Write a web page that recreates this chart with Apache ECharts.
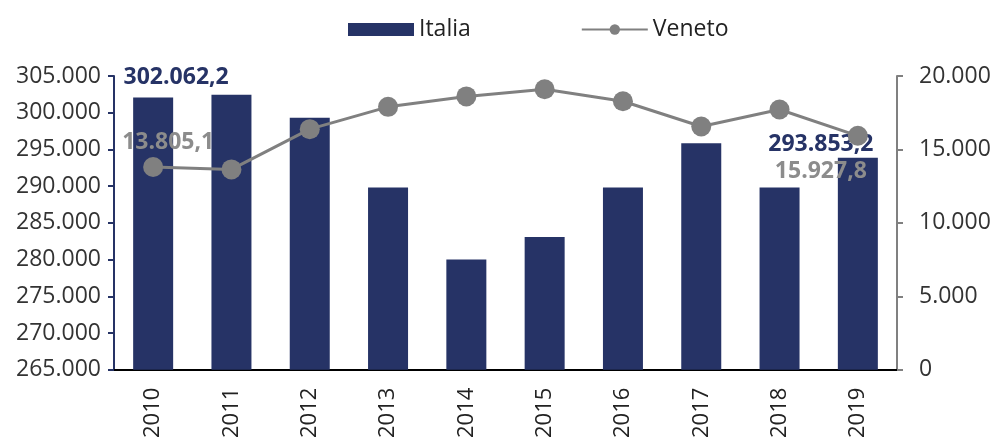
<!DOCTYPE html>
<html>
<head>
<meta charset="utf-8">
<script src="https://cdn.jsdelivr.net/npm/echarts@6/dist/echarts.min.js"></script>
<style>
html,body{margin:0;padding:0;background:#fff;}
#chart{width:998px;height:441px;}
</style>
</head>
<body>
<div id="chart"></div>
<script>
// dati
var anni = ['2010','2011','2012','2013','2014','2015','2016','2017','2018','2019'];
var italia = [302062.2, 302450, 299320, 289830, 280000, 283080, 289830, 295830, 289830, 293853.2];
var veneto = [13805.1, 13640, 16380, 17900, 18610, 19100, 18280, 16560, 17720, 15927.8];
var tickSx = [265000, 305000, 5000];
var tickDx = [0, 20000, 5000];

function fmtIt(v, dec){
	var s = v.toFixed(dec).split('.');
	var int = s[0].replace(/\B(?=(\d{3})+(?!\d))/g, '.');
	return s.length > 1 ? int + ',' + s[1] : int;
}

var FONT = 'Open Sans';
var NAVY = '#263366';
var GREY = '#808080';

// solo primo e ultimo valore con etichetta
var barData = italia.map(function(v, i){
	var d = {value: v};
	if (i === 0) d.label = {show: true, position: 'top', offset: [23, -4]};
	if (i === italia.length - 1) d.label = {show: true, position: 'top', offset: [-37, 3]};
	return d;
});
var lineData = veneto.map(function(v, i){
	var d = {value: v};
	if (i === 0) d.label = {show: true, position: 'top', offset: [15, 2]};
	if (i === veneto.length - 1) d.label = {show: true, position: 'bottom', offset: [-37, 9]};
	return d;
});

var chart = echarts.init(document.getElementById('chart'));
var option = {
	animation: false,
	textStyle: {fontFamily: FONT},
	legend: {
		left: 343, top: 13,
		itemGap: 110,
		itemWidth: 66, itemHeight: 13,
		textStyle: {fontSize: 23, color: '#222', fontFamily: FONT},
		data: [
			{name: 'Italia', icon: 'rect'},
			{name: 'Veneto'}
		]
	},
	grid: {left: 114, right: 101, top: 76, bottom: 67, containLabel: false},
	xAxis: {
		type: 'category',
		data: anni,
		axisTick: {show: false},
		axisLine: {lineStyle: {color: '#000', width: 2}},
		axisLabel: {rotate: 90, fontSize: 22, color: '#222', margin: 18, fontFamily: FONT}
	},
	yAxis: [{
		type: 'value',
		min: tickSx[0], max: tickSx[1], interval: tickSx[2],
		splitLine: {show: false},
		axisLine: {show: true, lineStyle: {color: NAVY, width: 2}},
		axisTick: {show: true, length: 6, lineStyle: {color: NAVY, width: 2}},
		axisLabel: {fontSize: 23, color: '#333', margin: 13, fontFamily: FONT,
			formatter: function(v){ return fmtIt(v, 0); }}
	}, {
		type: 'value',
		min: tickDx[0], max: tickDx[1], interval: tickDx[2],
		splitLine: {show: false},
		axisLine: {show: true, lineStyle: {color: GREY, width: 2}},
		axisTick: {show: true, length: 6, lineStyle: {color: GREY, width: 2}},
		axisLabel: {fontSize: 23, color: '#333', margin: 22, fontFamily: FONT,
			formatter: function(v){ return fmtIt(v, 0); }}
	}],
	series: [{
		name: 'Italia',
		type: 'bar',
		yAxisIndex: 0,
		barWidth: 40,
		itemStyle: {color: NAVY},
		label: {show: false, fontSize: 23, fontWeight: 'bold', color: NAVY, fontFamily: FONT,
			formatter: function(p){ return fmtIt(p.value, 1); }},
		data: barData
	}, {
		name: 'Veneto',
		type: 'line',
		yAxisIndex: 1,
		symbol: 'circle',
		symbolSize: 20,
		itemStyle: {color: GREY},
		lineStyle: {color: GREY, width: 3},
		label: {show: false, fontSize: 23, fontWeight: 'bold', color: '#8c8c8c', fontFamily: FONT,
			formatter: function(p){ return fmtIt(p.value, 1); }},
		data: lineData
	}]
};
chart.setOption(option);
</script>
</body>
</html>
